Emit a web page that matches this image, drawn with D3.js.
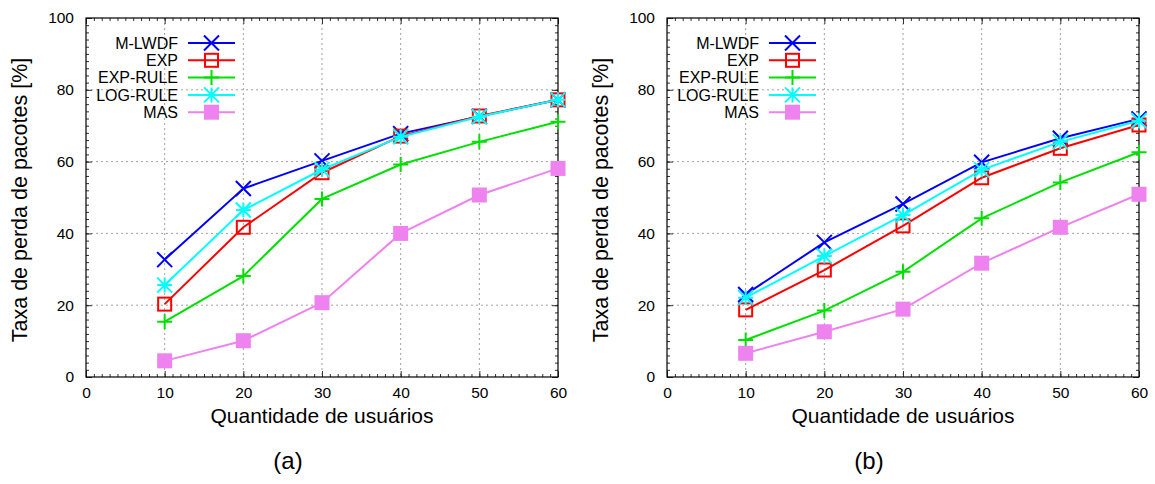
<!DOCTYPE html>
<html>
<head>
<meta charset="utf-8">
<script src="https://cdn.jsdelivr.net/npm/d3@7"></script>
<style>
  html, body { margin: 0; padding: 0; background: #fff; }
  svg { display: block; font-family: "Liberation Sans", Arial, sans-serif; }
</style>
</head>
<body>
<svg id="fig" width="1155" height="484"></svg>
<script>
// Number of users on the x axis
const users = [10, 20, 30, 40, 50, 60];

// Series names (legend order)
const schedulers = ["M-LWDF", "EXP", "EXP-RULE", "LOG-RULE", "MAS"];

// Packet loss rate [%], scenario (a)
const mlwdfA   = [32.7, 52.5, 60.2, 67.8, 72.6, 77.2];
const expA     = [20.3, 41.7, 56.9, 67.1, 72.7, 77.2];
const expRuleA = [15.4, 28.1, 49.6, 59.2, 65.5, 71.1];
const logRuleA = [25.6, 46.5, 57.8, 66.9, 72.5, 77.2];
const masA     = [4.5, 10.1, 20.7, 40.0, 50.7, 58.1];

// Packet loss rate [%], scenario (b)
const mlwdfB   = [23.0, 37.5, 48.2, 59.8, 66.5, 71.9];
const expB     = [18.7, 29.8, 42.1, 55.5, 63.7, 70.2];
const expRuleB = [10.3, 18.5, 29.3, 44.2, 54.2, 62.6];
const logRuleB = [22.1, 33.7, 45.1, 57.7, 65.5, 71.4];
const masB     = [6.6, 12.6, 18.9, 31.7, 41.7, 50.9];

// Tick values
const xTicks = [0, 10, 20, 30, 40, 50, 60];
const yTicks = [0, 20, 40, 60, 80, 100];

const panelLabels = ["(a)", "(b)"];
const xTitle = "Quantidade de usuários";
const yTitle = "Taxa de perda de pacotes [%]";

const styles = {
  "M-LWDF":   { color: "#0000ff", marker: "cross" },
  "EXP":      { color: "#ff0000", marker: "openSquare" },
  "EXP-RULE": { color: "#00e000", marker: "plus" },
  "LOG-RULE": { color: "#00ffff", marker: "star" },
  "MAS":      { color: "#ee82ee", marker: "filledSquare" }
};

const panels = [
  { left: 86,  label: panelLabels[0], series: [mlwdfA, expA, expRuleA, logRuleA, masA] },
  { left: 667, label: panelLabels[1], series: [mlwdfB, expB, expRuleB, logRuleB, masB] }
];

const plotW = 472, plotTop = 18, plotBottom = 377;
const svg = d3.select("#fig");

function drawMarker(g, type, color, cx, cy) {
  const s = 7.5;
  const stroke = el => el.attr("stroke", color).attr("stroke-width", 2).attr("fill", "none");
  if (type === "cross") {
    stroke(g.append("path").attr("d", `M${cx - s},${cy - s}L${cx + s},${cy + s}M${cx - s},${cy + s}L${cx + s},${cy - s}`));
  } else if (type === "openSquare") {
    stroke(g.append("rect").attr("x", cx - 6.5).attr("y", cy - 6.5).attr("width", 13).attr("height", 13));
  } else if (type === "plus") {
    stroke(g.append("path").attr("d", `M${cx - s},${cy}L${cx + s},${cy}M${cx},${cy - s}L${cx},${cy + s}`));
  } else if (type === "star") {
    stroke(g.append("path").attr("d", `M${cx - s},${cy}L${cx + s},${cy}M${cx},${cy - s}L${cx},${cy + s}M${cx - s},${cy - s}L${cx + s},${cy + s}M${cx - s},${cy + s}L${cx + s},${cy - s}`));
  } else if (type === "filledSquare") {
    g.append("rect").attr("x", cx - 7.5).attr("y", cy - 7.5).attr("width", 15).attr("height", 15)
      .attr("fill", color);
  }
}

panels.forEach(p => {
  const x = d3.scaleLinear().domain([0, 60]).range([p.left, p.left + plotW]);
  const y = d3.scaleLinear().domain([0, 100]).range([plotBottom, plotTop]);
  const g = svg.append("g");

  // dotted grid at major ticks
  const grid = g.append("g").attr("stroke", "#a0a0a0").attr("stroke-width", 1).attr("stroke-dasharray", "2,3");
  xTicks.slice(1, -1).forEach(v => {
    grid.append("line").attr("x1", x(v)).attr("x2", x(v)).attr("y1", plotTop).attr("y2", plotBottom);
  });
  yTicks.slice(1, -1).forEach(v => {
    grid.append("line").attr("x1", p.left).attr("x2", p.left + plotW).attr("y1", y(v)).attr("y2", y(v));
  });

  // axes: inward ticks on all four sides, minor ticks every 1 (x) and 2 (y)
  const axB = d3.axisBottom(x).tickValues(xTicks).tickSizeInner(-6).tickSizeOuter(0).tickPadding(10);
  const axT = d3.axisTop(x).tickValues(xTicks).tickSizeInner(-6).tickSizeOuter(0).tickFormat("");
  const axL = d3.axisLeft(y).tickValues(yTicks).tickSizeInner(-6).tickSizeOuter(0).tickPadding(12);
  const axR = d3.axisRight(y).tickValues(yTicks).tickSizeInner(-6).tickSizeOuter(0).tickFormat("");
  const minorX = d3.range(0, 61, 1), minorY = d3.range(0, 101, 2);
  const mB = d3.axisBottom(x).tickValues(minorX).tickSizeInner(-3).tickSizeOuter(0).tickFormat("");
  const mT = d3.axisTop(x).tickValues(minorX).tickSizeInner(-3).tickSizeOuter(0).tickFormat("");
  const mL = d3.axisLeft(y).tickValues(minorY).tickSizeInner(-3).tickSizeOuter(0).tickFormat("");
  const mR = d3.axisRight(y).tickValues(minorY).tickSizeInner(-3).tickSizeOuter(0).tickFormat("");

  const place = (ax, tr) => {
    const a = g.append("g").attr("transform", tr).call(ax);
    a.selectAll("path.domain").remove();
    a.selectAll("line").attr("stroke", "#333");
    a.selectAll("text").attr("font-size", 15.5).attr("fill", "#000").attr("font-family", "Liberation Sans, Arial, sans-serif");
    return a;
  };
  place(mB, `translate(0,${plotBottom})`);
  place(mT, `translate(0,${plotTop})`);
  place(mL, `translate(${p.left},0)`);
  place(mR, `translate(${p.left + plotW},0)`);
  place(axB, `translate(0,${plotBottom})`);
  place(axT, `translate(0,${plotTop})`);
  place(axL, `translate(${p.left},0)`);
  place(axR, `translate(${p.left + plotW},0)`);

  // frame
  g.append("rect").attr("x", p.left).attr("y", plotTop).attr("width", plotW).attr("height", plotBottom - plotTop)
    .attr("fill", "none").attr("stroke", "#000").attr("stroke-width", 1.2);

  // series
  const line = d3.line().x((d, i) => x(users[i])).y(d => y(d));
  schedulers.forEach((name, k) => {
    const st = styles[name];
    const data = p.series[k];
    g.append("path").datum(data).attr("d", line).attr("fill", "none")
      .attr("stroke", st.color).attr("stroke-width", 2);
    data.forEach((v, i) => drawMarker(g, st.marker, st.color, x(users[i]), y(v)));
  });

  // legend
  const lg = g.append("g");
  schedulers.forEach((name, k) => {
    const st = styles[name];
    const ly = 43 + k * 17.3;
    lg.append("text").attr("x", p.left + 92).attr("y", ly).attr("dy", "0.36em")
      .attr("text-anchor", "end").attr("font-size", 16).text(name);
    lg.append("line").attr("x1", p.left + 102).attr("x2", p.left + 149).attr("y1", ly).attr("y2", ly)
      .attr("stroke", st.color).attr("stroke-width", 2);
    drawMarker(lg, st.marker, st.color, p.left + 125.5, ly);
  });

  // axis titles
  g.append("text").attr("x", p.left + plotW / 2).attr("y", 423)
    .attr("text-anchor", "middle").attr("font-size", 21).text(xTitle);
  g.append("text").attr("transform", `translate(${p.left - 59},200) rotate(-90)`)
    .attr("text-anchor", "middle").attr("font-size", 21.5).text(yTitle);

  // panel label
  g.append("text").attr("x", p.left + 202).attr("y", 469)
    .attr("text-anchor", "middle").attr("font-size", 24).text(p.label);
});
</script>
</body>
</html>
